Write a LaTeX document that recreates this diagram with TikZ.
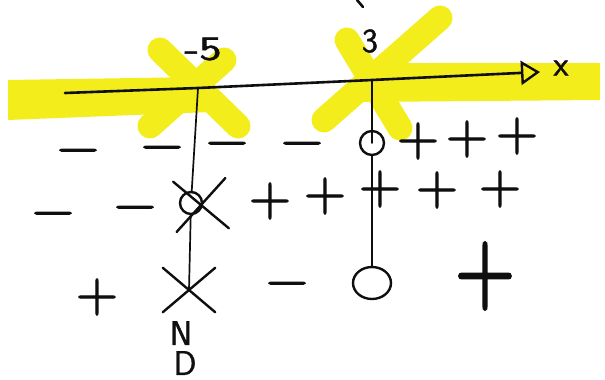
\documentclass[tikz,border=0pt]{standalone}
\usepackage{fontspec}
\newfontfamily\signfont{Latin Modern Roman}[FakeBold=1.8]
\newfontfamily\labfont{Latin Modern Sans}[FakeBold=1.2]
\usetikzlibrary{arrows.meta,shapes.misc,shapes.geometric}
\definecolor{hilite}{RGB}{243,237,28}
\definecolor{inkc}{RGB}{15,15,15}
\tikzset{
  ink/.style={draw=inkc,line width=2.6pt,line cap=round,line join=round},
  thinink/.style={draw=inkc,line width=1.7pt,line cap=round},
  hl/.style={draw=hilite,line width=25pt,line cap=round},
  sgn/.style={inner sep=0pt,text=inkc,font=\signfont\fontsize{58}{58}\selectfont},
  msgn/.style={sgn,yshift=-7pt},
  lbl/.style={inner sep=0pt,text=inkc,font=\labfont\fontsize{34}{34}\selectfont},
  hole/.style={circle,draw=inkc,line width=2.4pt,inner sep=0pt},
  oval/.style={ellipse,draw=inkc,line width=2.4pt,inner sep=0pt},
  xmark/.style={cross out,draw=inkc,line width=2.4pt,line cap=round,inner sep=0pt},
}
\begin{document}
\begin{tikzpicture}[x=1pt,y=-1pt]
\useasboundingbox (0,0) rectangle (605,380);
\fill[white] (0,0) rectangle (605,380);
% highlighter
\fill[hilite] (8,80) -- (200,77) -- (210,112) -- (8,120) -- cycle;
\fill[hilite] (360,63) -- (600,63) -- (600,100) -- (360,102) -- cycle;
\draw[hl] (160,50) -- (238,126);
\draw[hl] (224,60) -- (150,126);
\draw[hl] (440,18) -- (324,120);
\draw[hl] (347,40) -- (400,128);
% tiny mark at top
\draw[ink] (357,0) -- (363,7);
% axis
\coordinate (a0) at (65,93);
\coordinate (t1) at (198,88);
\coordinate (t2) at (372,80);
\coordinate (a1) at (540,72);
\draw[ink,-{Triangle[open,length=19pt,width=24pt,line width=2.4pt]}] (a0) -- (t1) -- (t2) -- (a1);
\node[lbl,xscale=1.4] (m5) at (203,49) {-5};
\node[lbl] (l3) at (370,41) {3};
\node[lbl] (lx) at (561,68) {x};
% row 1
\node[msgn] (r1a) at (78,150) {−};
\node[msgn] (r1b) at (162,147) {−};
\node[msgn] (r1c) at (227,143) {−};
\node[msgn] (r1d) at (302,143) {−};
\node[hole,minimum size=24pt] (c1) at (372,143) {};
\node[sgn] (r1e) at (418,141) {+};
\node[sgn] (r1f) at (467,139) {+};
\node[sgn] (r1g) at (517,136) {+};
% row 2
\node[msgn] (r2a) at (53,213) {−};
\node[msgn] (r2b) at (135,207) {−};
\node[hole,minimum size=22pt] (cx2) at (191,203) {};
\node[xmark,minimum width=50pt,minimum height=48pt,rotate=4] (cx2x) at (201,205) {};
\node[sgn] (r2c) at (270,201) {+};
\node[sgn] (r2d) at (325,196) {+};
\node[sgn] (r2e) at (380,189) {+};
\node[sgn] (r2f) at (437,190) {+};
\node[sgn] (r2g) at (500,189) {+};
% row 3
\node[sgn] (r3a) at (97,297) {+};
\node[xmark,minimum width=50pt,minimum height=42pt] (x3) at (189,290) {};
\node[msgn] (r3b) at (287,283) {−};
\node[oval,minimum width=38pt,minimum height=32pt] (c3) at (372,283) {};
\node[sgn,font=\signfont\bfseries\fontsize{70}{70}\selectfont,yscale=1.3] (r3c) at (485,276) {+};
\node[lbl] (nd1) at (181,333) {N};
\node[lbl] (nd2) at (185,363) {D};
% vertical lines
\draw[thinink] (t1) -- (cx2);
\draw[thinink] (cx2) -- (x3.center);
\draw[thinink] (t2) -- (c1.center);
\draw[thinink] (c1) -- (c3);
\end{tikzpicture}
\end{document}
